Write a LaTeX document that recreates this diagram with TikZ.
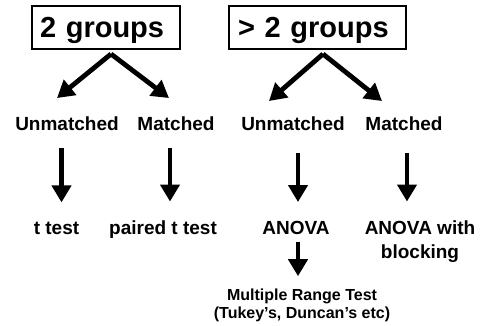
\documentclass[tikz,border=0pt]{standalone}
\usepackage{fontspec}
\setmainfont{Liberation Sans}
\usetikzlibrary{arrows.meta}
\begin{document}
\begin{tikzpicture}[x=1pt,y=-1pt,
  grp/.style={draw, line width=2pt, minimum height=43pt, inner xsep=8pt, inner ysep=0pt, text height=21pt, text depth=0pt, align=left, font=\fontsize{29}{34}\selectfont\bfseries},
  lbl/.style={inner sep=0pt, anchor=base, align=center, font=\fontsize{19}{24}\selectfont\bfseries},
  smalllbl/.style={inner sep=0pt, anchor=base, align=center, font=\fontsize{16}{18}\selectfont\bfseries},
  arr/.style={line width=4.8pt, -{Triangle[length=17pt,width=19pt]}}]
\useasboundingbox (0,0) rectangle (484,326);
\node[grp, minimum width=148pt, text width=132pt] (g2) at (106,27.5) {2 groups};
\node[grp, minimum width=177pt, text width=159pt, inner xsep=9pt] (gm) at (317.5,27.5) {> 2 groups};
\node[lbl] (u1) at (67,131) {Unmatched};
\node[lbl] (m1) at (176,131) {Matched};
\node[lbl] (u2) at (293,131) {Unmatched};
\node[lbl] (m2) at (404,131) {Matched};
\node[lbl] (t1) at (56.5,234) {t test};
\node[lbl] (t2) at (163,234) {paired t test};
\node[lbl] (t3) at (296,234) {ANOVA};
\node[lbl] (t4) at (420,258) {ANOVA with\\blocking};
\node[smalllbl] (mr) at (302,318) {Multiple Range Test\\(Tukey’s, Duncan’s etc)};
\draw[arr] ([xshift=5pt,yshift=-4pt]g2.south) -- ([xshift=-10pt,yshift=19pt]u1.north);
\draw[arr] ([xshift=5pt,yshift=-4pt]g2.south) -- ([xshift=-7pt,yshift=19pt]m1.north);
\draw[arr] ([xshift=5.5pt,yshift=-4pt]gm.south) -- ([xshift=-24pt,yshift=16pt]u2.north);
\draw[arr] ([xshift=5.5pt,yshift=-4pt]gm.south) -- ([xshift=-22pt,yshift=16pt]m2.north);
\draw[arr] ([xshift=-5.5pt,yshift=-17pt]u1.south) -- ([xshift=5pt,yshift=19pt]t1.north);
\draw[arr] ([xshift=-6pt,yshift=-17pt]m1.south) -- ([xshift=7pt,yshift=18.5pt]t2.north);
\draw[arr] ([xshift=5pt,yshift=-22pt]u2.south) -- ([xshift=2pt,yshift=18.5pt]t3.north);
\draw[arr] ([xshift=3pt,yshift=-22pt]m2.south) -- ([xshift=-13pt,yshift=18.5pt]t4.north);
\draw[arr] ([xshift=2pt,yshift=-8pt]t3.south) -- ([xshift=-4pt,yshift=12pt]mr.north);
\end{tikzpicture}
\end{document}
